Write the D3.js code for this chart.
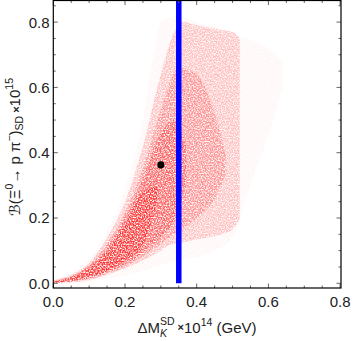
<!DOCTYPE html>
<html><head><meta charset="utf-8">
<script src="https://cdn.jsdelivr.net/npm/d3@7"></script>
<style>
html,body{margin:0;padding:0;background:#fff;}
text{font-family:"Liberation Sans",Arial,sans-serif;}
</style></head>
<body><div id="chart"></div>
<script>
// ---- data ----
const xTicks = [0.0, 0.2, 0.4, 0.6, 0.8];
const yTicks = [0.0, 0.2, 0.4, 0.6, 0.8];
const xTickLabels = ["0.0", "0.2", "0.4", "0.6", "0.8"];
const yTickLabels = ["0.0", "0.2", "0.4", "0.6", "0.8"];
// scatter-cloud density bands (x, lower edge, upper edge), sparse -> dense
const haloX     = [0, 0.05, 0.1, 0.15, 0.2, 0.25, 0.28, 0.3, 0.35, 0.4, 0.45, 0.5, 0.55, 0.6, 0.64];
const haloLow   = [0, 0.0, 0.004, 0.014, 0.025, 0.038, 0.048, 0.055, 0.07, 0.08, 0.1, 0.14, 0.3, 0.45, 0.6];
const haloHigh  = [0.012, 0.032, 0.075, 0.16, 0.29, 0.5, 0.7, 0.8, 0.82, 0.8, 0.785, 0.765, 0.745, 0.72, 0.68];
const cloudX    = [0, 0.05, 0.1, 0.15, 0.2, 0.25, 0.3, 0.33, 0.36, 0.4, 0.45, 0.5, 0.52];
const cloudLow  = [0, 0.003, 0.01, 0.026, 0.045, 0.07, 0.1, 0.12, 0.125, 0.135, 0.145, 0.165, 0.2];
const cloudHigh = [0.009, 0.026, 0.062, 0.14, 0.25, 0.42, 0.64, 0.75, 0.8, 0.79, 0.78, 0.77, 0.75];
const midX      = [0, 0.05, 0.1, 0.15, 0.2, 0.25, 0.3, 0.35, 0.4, 0.45, 0.48];
const midLow    = [0.001, 0.005, 0.014, 0.03, 0.052, 0.082, 0.12, 0.16, 0.2, 0.26, 0.33];
const midHigh   = [0.007, 0.022, 0.056, 0.12, 0.215, 0.35, 0.53, 0.66, 0.64, 0.52, 0.4];
const denseX    = [0, 0.05, 0.1, 0.15, 0.2, 0.25, 0.3, 0.34, 0.37];
const denseLow  = [0.002, 0.006, 0.016, 0.034, 0.058, 0.095, 0.14, 0.2, 0.3];
const denseHigh = [0.006, 0.02, 0.052, 0.11, 0.2, 0.32, 0.46, 0.5, 0.42];
const coreX     = [0, 0.05, 0.1, 0.15, 0.2, 0.25, 0.29];
const coreLow   = [0.002, 0.007, 0.018, 0.038, 0.068, 0.12, 0.25];
const coreHigh  = [0.005, 0.018, 0.046, 0.098, 0.18, 0.28, 0.3];
const sdLimit = 0.35;                    // blue vertical line
const pointX = [0.30], pointY = [0.363]; // black point

// ---- layout ----
const W = 354, H = 341;
const L = 53.3, R = 341, T = 0.5, B = 288;
const svg = d3.select("#chart").append("svg").attr("width", W).attr("height", H);
const x = d3.scaleLinear().domain([0, 0.8]).range([L, 340.1]);
const y = d3.scaleLinear().domain([0, 0.8]).range([283.3, 22.1]);

const defs = svg.append("defs");
defs.append("clipPath").attr("id","clip").append("rect")
  .attr("x", L).attr("y", T).attr("width", R - L).attr("height", B - T);
// grain texture so the filled bands look like a dense scatter of tiny dots
const f = defs.append("filter").attr("id","grain").attr("color-interpolation-filters","sRGB")
  .attr("filterUnits","userSpaceOnUse")
  .attr("x", L).attr("y", T).attr("width", R-L).attr("height", B-T);
f.append("feTurbulence").attr("type","fractalNoise").attr("baseFrequency",0.75)
  .attr("numOctaves",1).attr("seed",7).attr("result","noise");
f.append("feColorMatrix").attr("in","noise").attr("type","matrix")
  .attr("values","0 0 0 0 0  0 0 0 0 0  0 0 0 0 0  3.2 0 0 0 -0.95").attr("result","mask");
f.append("feComposite").attr("in","SourceGraphic").attr("in2","mask").attr("operator","in");

const g = svg.append("g").attr("clip-path","url(#clip)");
const cloudG = g.append("g").attr("filter","url(#grain)");

function band(xs, lo, hi, op){
  const d = xs.map((v,i)=>({x:v, lo:lo[i], hi:hi[i]}));
  const a = d3.area().x(e=>x(e.x)).y0(e=>y(e.lo)).y1(e=>y(e.hi)).curve(d3.curveMonotoneX);
  cloudG.append("path").datum(d).attr("d", a).attr("fill", "#ff0000").attr("fill-opacity", op);
}
band(haloX, haloLow, haloHigh, 0.035);
band(cloudX, cloudLow, cloudHigh, 0.22);
band(midX, midLow, midHigh, 0.24);
band(denseX, denseLow, denseHigh, 0.32);
band(coreX, coreLow, coreHigh, 0.42);

// blue line
g.append("line").attr("x1", x(sdLimit)).attr("x2", x(sdLimit))
  .attr("y1", y(0)).attr("y2", T).attr("stroke", "#0000ff").attr("stroke-width", 5.5);
// black point
g.selectAll("circle.pt").data(pointX).join("circle").attr("class","pt")
  .attr("cx", d=>x(d)).attr("cy", (d,i)=>y(pointY[i])).attr("r", 3.6).attr("fill", "#000");

// ticks (inside, all four sides)
const xMinor = d3.range(0, 0.8001, 0.05);
const yMinor = d3.range(0, 0.8601, 0.05);
const tg = svg.append("g").attr("stroke", "#666").attr("stroke-width", 1);
xMinor.forEach(v=>{
  const major = Math.abs(v/0.2 - Math.round(v/0.2)) < 1e-6;
  const len = major ? 4.5 : 2.5;
  tg.append("line").attr("x1", x(v)).attr("x2", x(v)).attr("y1", B).attr("y2", B - len);
  tg.append("line").attr("x1", x(v)).attr("x2", x(v)).attr("y1", T).attr("y2", T + len);
});
yMinor.forEach(v=>{
  const major = Math.abs(v/0.2 - Math.round(v/0.2)) < 1e-6;
  const len = major ? 4.5 : 2.5;
  tg.append("line").attr("y1", y(v)).attr("y2", y(v)).attr("x1", L).attr("x2", L + len);
  tg.append("line").attr("y1", y(v)).attr("y2", y(v)).attr("x1", R).attr("x2", R - len);
});
// frame
svg.append("rect").attr("x", L).attr("y", T).attr("width", R - L).attr("height", B - T)
  .attr("fill", "none").attr("stroke", "#000").attr("stroke-width", 1.2);

// tick labels
svg.selectAll("text.xt").data(xTicks).join("text").attr("class","xt")
  .attr("x", d=>x(d)).attr("y", 307.3).attr("text-anchor","middle")
  .attr("font-size", 15).attr("fill", "#222").text((d,i)=>xTickLabels[i]);
svg.selectAll("text.yt").data(yTicks).join("text").attr("class","yt")
  .attr("x", 49.5).attr("y", d=>y(d) + 5.4).attr("text-anchor","end")
  .attr("font-size", 15).attr("fill", "#222").text((d,i)=>yTickLabels[i]);

// x title
const xt = svg.append("text").attr("x", 197).attr("y", 333.3).attr("text-anchor","middle")
  .attr("font-size", 15).attr("fill", "#222");
xt.append("tspan").text("ΔM");
xt.append("tspan").attr("font-size", 10.5).attr("font-style","italic").attr("dy", 4).text("K");
xt.append("tspan").attr("font-size", 10.5).attr("dx", -7).attr("dy", -12).text("SD");
xt.append("tspan").attr("font-size", 11).attr("font-weight","bold").attr("dy", 6).text(" ×");
xt.append("tspan").attr("dy", 2).text("10");
xt.append("tspan").attr("font-size", 10.5).attr("dy", -7).text("14");
xt.append("tspan").attr("dy", 7).text(" (GeV)");

// y title
const yt = svg.append("text").attr("transform","translate(19.5,147) rotate(-90)")
  .attr("text-anchor","middle").attr("font-size", 15).attr("fill", "#222");
yt.append("tspan").attr("font-family","DejaVu Sans").text("ℬ");
yt.append("tspan").text("(Ξ");
yt.append("tspan").attr("font-size", 10.5).attr("dy", -7).text("0");
yt.append("tspan").attr("dy", 7).text("→ p π");
yt.append("tspan").attr("font-size", 10.5).attr("dy", -7).text("−");
yt.append("tspan").attr("dy", 7).text(")");
yt.append("tspan").attr("font-size", 10.5).attr("dy", 3).text("SD");
yt.append("tspan").attr("font-size", 11).attr("font-weight","bold").attr("dy", -3).text(" ×");
yt.append("tspan").text("10");
yt.append("tspan").attr("font-size", 10.5).attr("dy", -7).text("15");
</script></body></html>
